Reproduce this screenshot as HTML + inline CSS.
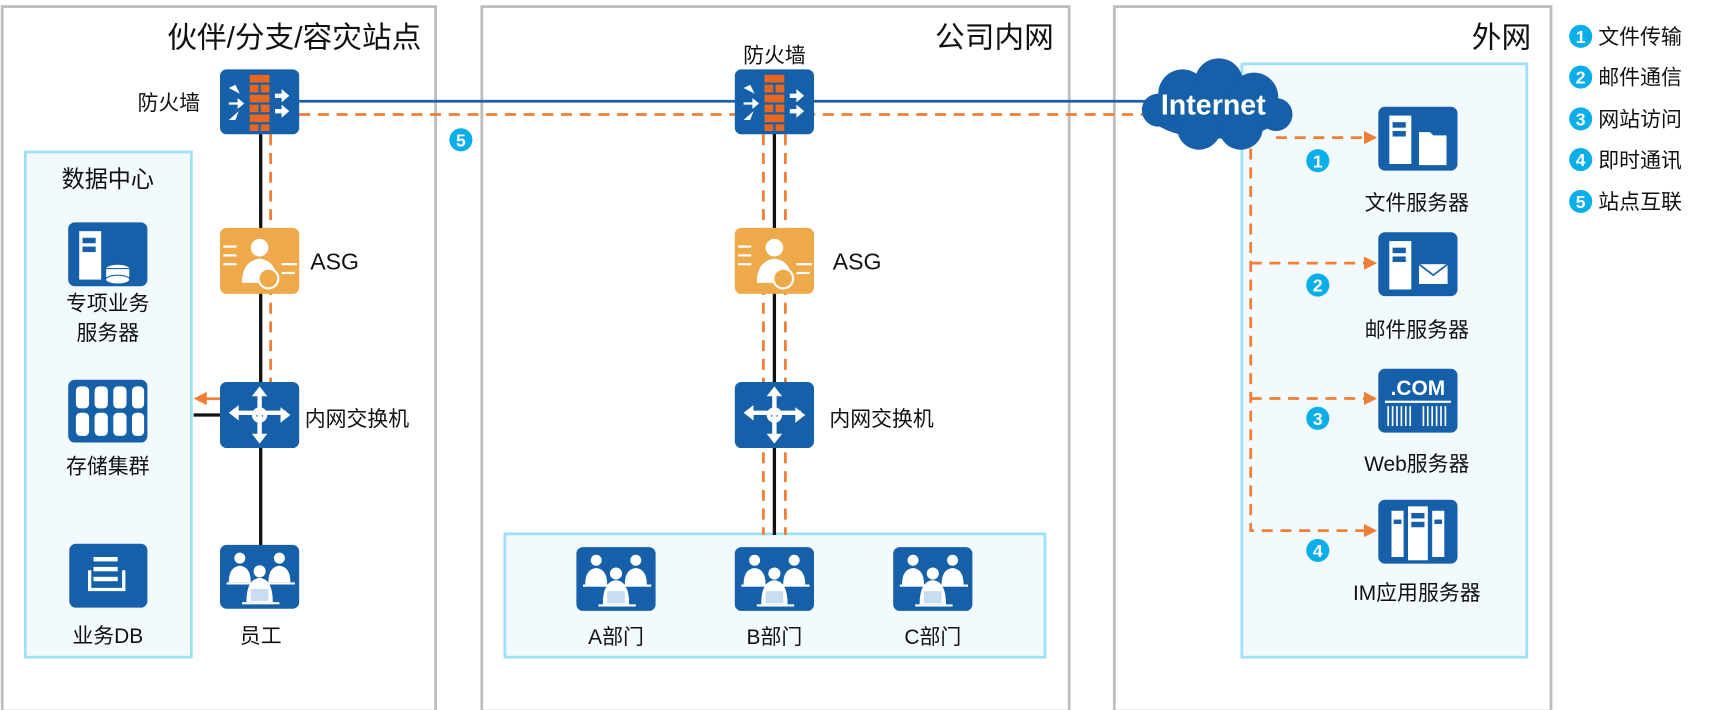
<!DOCTYPE html>
<html><head><meta charset="utf-8"><style>
html,body{margin:0;padding:0;background:#fff;}
svg{display:block;}
text{font-family:"Liberation Sans","Noto Sans CJK SC",sans-serif;fill:#111;}
</style></head><body>
<svg width="1716" height="710" viewBox="0 0 1560 645" preserveAspectRatio="none" xmlns="http://www.w3.org/2000/svg">
<defs>
  <g id="fw">
    <rect x="0" y="0" width="72" height="59" rx="6" fill="#1560a8"/>
    <g fill="#e8661f">
      <rect x="27" y="5" width="18" height="7"/>
      <rect x="27" y="14" width="8" height="7"/><rect x="37" y="14" width="8" height="7"/>
      <rect x="27" y="23" width="18" height="7"/>
      <rect x="27" y="32" width="8" height="7"/><rect x="37" y="32" width="8" height="7"/>
      <rect x="27" y="41" width="18" height="7"/>
      <rect x="27" y="50" width="8" height="6"/><rect x="37" y="50" width="8" height="6"/>
    </g>
    <g fill="#fff">
      <polygon points="8,17 18,22 14,14"/><polygon points="8,30 16,30 16,26 22,31 16,36 16,32 8,32"/>
      <polygon points="8,46 17,38 14,46"/>
      <polygon points="50,22 56,22 56,18 63,24 56,30 56,26 50,26"/>
      <polygon points="50,36 56,36 56,32 63,38 56,44 56,40 50,40"/>
    </g>
  </g>
  <g id="asg">
    <rect x="0" y="0" width="72" height="60" rx="6" fill="#eeaa4a"/>
    <circle cx="36" cy="18" r="8" fill="#fff"/>
    <path d="M20 50 Q20 30 36 28 Q52 30 52 50 Z" fill="#fff"/>
    <circle cx="44" cy="46" r="9" fill="#eeaa4a" stroke="#fff" stroke-width="2"/>
    <g fill="#fff"><rect x="3" y="16" width="12" height="2"/><rect x="3" y="24" width="12" height="2"/><rect x="3" y="32" width="12" height="2"/>
    <rect x="56" y="32" width="14" height="2"/><rect x="56" y="40" width="12" height="2"/></g>
  </g>
  <g id="sw">
    <rect x="0" y="0" width="72" height="60" rx="6" fill="#1560a8"/>
    <g stroke="#fff" stroke-width="4" fill="none"><path d="M36 8 V52"/><path d="M12 28 H60"/><circle cx="36" cy="30" r="5"/></g>
    <g fill="#fff"><polygon points="36,4 29,13 43,13"/><polygon points="36,56 29,47 43,47"/><polygon points="8,28 17,21 17,35"/><polygon points="64,30 55,23 55,37"/></g>
  </g>
  <g id="ppl">
    <rect x="0" y="0" width="72" height="58" rx="6" fill="#1560a8"/>
    <g fill="#fff">
      <circle cx="18" cy="12" r="5"/><path d="M8 34 Q8 20 18 19 Q28 20 28 34Z"/>
      <circle cx="54" cy="12" r="5"/><path d="M44 34 Q44 20 54 19 Q64 20 64 34Z"/>
      <circle cx="36" cy="24" r="5.5"/><path d="M24 52 Q24 31 36 30 Q48 31 48 52Z"/>
      <rect x="6" y="34" width="26" height="2"/><rect x="42" y="34" width="26" height="2"/><rect x="20" y="52" width="34" height="2"/>
    </g>
    <rect x="28" y="40" width="16" height="11" fill="#c9ddf2"/>
  </g>
  <g id="srvbase">
    <rect x="0" y="0" width="72" height="58" rx="6" fill="#1560a8"/>
    <rect x="10" y="8" width="20" height="44" fill="#fff"/>
    <rect x="13" y="14" width="12" height="5" fill="#1560a8"/><rect x="13" y="22" width="12" height="5" fill="#1560a8"/>
  </g>
  <g id="badge"><circle r="10.5" fill="#0aaee8"/></g>
</defs>

<!-- outer boxes -->
<g fill="none" stroke="#bdbdbd" stroke-width="2.5">
  <rect x="2" y="6" width="394" height="640"/>
  <rect x="438" y="6" width="534" height="640"/>
  <rect x="1013" y="6" width="397" height="640"/>
</g>
<text x="383" y="43" font-size="27" text-anchor="end">伙伴/分支/容灾站点</text>
<text x="958" y="43" font-size="27" text-anchor="end">公司内网</text>
<text x="1392" y="43" font-size="27" text-anchor="end">外网</text>

<!-- inner boxes -->
<rect x="23" y="138" width="151" height="459" fill="#f3fafe" stroke="#9ee0f7" stroke-width="2.5"/>
<rect x="459" y="485" width="491" height="112" fill="#f3fafe" stroke="#9ee0f7" stroke-width="2.5"/>
<rect x="1129" y="58" width="259" height="539" fill="#f3fafe" stroke="#9ee0f7" stroke-width="2.5"/>
<text x="98" y="170" font-size="21" text-anchor="middle">数据中心</text>

<!-- lines -->
<g stroke="#111" stroke-width="3">
  <line x1="237" y1="120" x2="237" y2="496"/>
  <line x1="176" y1="377" x2="200" y2="377"/>
  <line x1="704" y1="120" x2="704" y2="486"/>
</g>
<line x1="272" y1="92" x2="1045" y2="92" stroke="#1f5fa6" stroke-width="2.5"/>
<g stroke="#ee7f35" stroke-width="2.5" stroke-dasharray="10,7" fill="none">
  <line x1="272" y1="104" x2="1045" y2="104"/>
  <line x1="246" y1="122" x2="246" y2="347"/>
  <line x1="694" y1="122" x2="694" y2="486"/>
  <line x1="714" y1="122" x2="714" y2="486"/>
  <path d="M1137 135 V482 H1240"/>
  <line x1="1160" y1="125" x2="1240" y2="125"/>
  <line x1="1137" y1="239" x2="1240" y2="239"/>
  <line x1="1137" y1="362" x2="1240" y2="362"/>
</g>
<g fill="#ee7f35">
  <polygon points="1252,125 1240,119 1240,131"/>
  <polygon points="1252,239 1240,233 1240,245"/>
  <polygon points="1252,362 1240,356 1240,368"/>
  <polygon points="1252,482 1240,476 1240,488"/>
  <rect x="186" y="361" width="14" height="2.5"/>
  <polygon points="176,362 188,356 188,368"/>
</g>

<!-- left column -->
<use href="#fw" x="200" y="63"/>
<text x="125" y="100" font-size="19">防火墙</text>
<use href="#asg" x="200" y="207"/>
<text x="282" y="245" font-size="21">ASG</text>
<use href="#sw" x="200" y="347"/>
<text x="277" y="387" font-size="19">内网交换机</text>
<use href="#ppl" x="200" y="495"/>
<text x="237" y="584" font-size="19" text-anchor="middle">员工</text>

<!-- data center icons -->
<use href="#srvbase" x="62" y="202"/>
<g fill="#fff" stroke="#1560a8" stroke-width="1"><ellipse cx="107" cy="44" rx="11" ry="4" transform="translate(0,200)"/><rect x="96" y="244" width="22" height="10"/><ellipse cx="107" cy="254" rx="11" ry="4"/></g>
<text x="98" y="282" font-size="19" text-anchor="middle">专项业务</text>
<text x="98" y="309" font-size="19" text-anchor="middle">服务器</text>
<rect x="62" y="345" width="72" height="57" rx="6" fill="#1560a8"/>
<g fill="#fff">
  <rect x="69" y="351" width="12" height="20" rx="4"/><rect x="86" y="351" width="12" height="20" rx="4"/><rect x="103" y="351" width="12" height="20" rx="4"/><rect x="120" y="351" width="11" height="20" rx="4"/>
  <rect x="69" y="375" width="12" height="21" rx="4"/><rect x="86" y="375" width="12" height="21" rx="4"/><rect x="103" y="375" width="12" height="21" rx="4"/><rect x="120" y="375" width="11" height="21" rx="4"/>
</g>
<text x="98" y="430" font-size="19" text-anchor="middle">存储集群</text>
<rect x="63" y="494" width="71" height="58" rx="6" fill="#1560a8"/>
<g fill="#fff"><rect x="85" y="506" width="22" height="4"/><rect x="85" y="515" width="22" height="4"/><rect x="85" y="524" width="22" height="4"/><path d="M80 518 h3 v16 h28 v-16 h3 v19 h-34z"/></g>
<text x="98" y="584" font-size="19" text-anchor="middle">业务DB</text>

<!-- middle column -->
<use href="#fw" x="668" y="63"/>
<text x="704" y="57" font-size="19" text-anchor="middle">防火墙</text>
<use href="#asg" x="668" y="207"/>
<text x="757" y="245" font-size="21">ASG</text>
<use href="#sw" x="668" y="347"/>
<text x="754" y="387" font-size="19">内网交换机</text>
<use href="#ppl" x="524" y="497"/>
<use href="#ppl" x="668" y="497"/>
<use href="#ppl" x="812" y="497"/>
<text x="560" y="585" font-size="19" text-anchor="middle">A部门</text>
<text x="704" y="585" font-size="19" text-anchor="middle">B部门</text>
<text x="848" y="585" font-size="19" text-anchor="middle">C部门</text>

<!-- cloud -->
<g fill="#1560a8">
  <ellipse cx="1105" cy="100" rx="62" ry="26"/>
  <circle cx="1075" cy="85" r="22"/><circle cx="1108" cy="75" r="22"/><circle cx="1140" cy="88" r="22"/>
  <circle cx="1090" cy="116" r="20"/><circle cx="1128" cy="116" r="20"/><circle cx="1053" cy="100" r="15"/><circle cx="1160" cy="104" r="15"/>
</g>
<text x="1103" y="104" font-size="26" font-weight="bold" text-anchor="middle" style="fill:#fff">Internet</text>

<!-- servers -->
<use href="#srvbase" x="1253" y="97"/>
<path d="M1290 120 h10 l3 3 h12 v27 h-25z" fill="#fff"/>
<text x="1288" y="191" font-size="19" text-anchor="middle">文件服务器</text>
<use href="#srvbase" x="1253" y="211"/>
<rect x="1290" y="240" width="26" height="18" fill="#fff"/><path d="M1290 240 l13 10 l13 -10" stroke="#1560a8" stroke-width="1.5" fill="none"/>
<text x="1288" y="306" font-size="19" text-anchor="middle">邮件服务器</text>
<rect x="1253" y="335" width="72" height="58" rx="6" fill="#1560a8"/>
<text x="1289" y="359" font-size="19" font-weight="bold" text-anchor="middle" style="fill:#fff">.COM</text>
<rect x="1259" y="364" width="60" height="2" fill="#fff"/>
<g stroke="#fff" stroke-width="1.5"><path d="M1262 369v18M1266 369v18M1270 369v18M1274 369v18M1278 369v18M1282 369v18M1294 369v18M1298 369v18M1302 369v18M1306 369v18M1310 369v18M1314 369v18"/></g>
<text x="1288" y="428" font-size="19" text-anchor="middle">Web服务器</text>
<rect x="1253" y="454" width="72" height="58" rx="6" fill="#1560a8"/>
<g fill="#fff"><rect x="1265" y="464" width="11" height="42"/><rect x="1280" y="460" width="18" height="49"/><rect x="1302" y="464" width="11" height="42"/></g>
<g fill="#1560a8"><rect x="1283" y="466" width="12" height="5"/><rect x="1283" y="474" width="12" height="5"/><rect x="1267" y="472" width="7" height="4"/><rect x="1304" y="472" width="7" height="4"/></g>
<text x="1288" y="545" font-size="19" text-anchor="middle">IM应用服务器</text>

<!-- badges -->
<g font-size="16" font-weight="bold" text-anchor="middle">
<use href="#badge" x="1198" y="146"/><text x="1198" y="152" style="fill:#fff">1</text>
<use href="#badge" x="1198" y="259"/><text x="1198" y="265" style="fill:#fff">2</text>
<use href="#badge" x="1198" y="380"/><text x="1198" y="386" style="fill:#fff">3</text>
<use href="#badge" x="1198" y="500"/><text x="1198" y="506" style="fill:#fff">4</text>
<use href="#badge" x="419" y="127"/><text x="419" y="133" style="fill:#fff">5</text>
</g>

<!-- legend -->
<g font-size="16" font-weight="bold" text-anchor="middle">
<use href="#badge" x="1437" y="33"/><text x="1437" y="39" style="fill:#fff">1</text>
<use href="#badge" x="1437" y="70"/><text x="1437" y="76" style="fill:#fff">2</text>
<use href="#badge" x="1437" y="108"/><text x="1437" y="114" style="fill:#fff">3</text>
<use href="#badge" x="1437" y="145"/><text x="1437" y="151" style="fill:#fff">4</text>
<use href="#badge" x="1437" y="183"/><text x="1437" y="189" style="fill:#fff">5</text>
</g>
<g font-size="19">
<text x="1453" y="40">文件传输</text>
<text x="1453" y="77">邮件通信</text>
<text x="1453" y="115">网站访问</text>
<text x="1453" y="152">即时通讯</text>
<text x="1453" y="190">站点互联</text>
</g>
</svg>
</body></html>
